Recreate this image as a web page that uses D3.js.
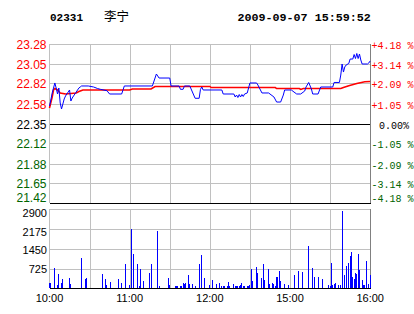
<!DOCTYPE html>
<html>
<head>
<meta charset="utf-8">
<script src="https://cdn.jsdelivr.net/npm/d3@7"></script>
<style>
body{margin:0;background:#fff;}
svg{display:block;}
</style>
</head>
<body>
<div id="chart"></div>
<script>
var stockCode = "02331", stockName = "李宁", stamp = "2009-09-07 15:59:52";
var prevClose = 22.35;
var priceTicks = [23.28, 23.05, 22.82, 22.58, 22.35, 22.12, 21.88, 21.65, 21.42];
var pctLabels = ["+4.18 %", "+3.14 %", "+2.09 %", "+1.05 %", "0.00%", "-1.05 %", "-2.09 %", "-3.14 %", "-4.18 %"];
var volTicks = [2900, 2175, 1450, 725];
var timeTicks = [0, 60, 120, 180, 240];
var timeLabels = ["10:00", "11:00", "12:00", "15:00", "16:00"];

// minute index since 10:00 (lunch break skipped) and last price
var priceMinutes = [0,1,2,3,4,5,6,7,8,9,10,11,12,13,14,15,16,17,18,19,20,21,22,23,24,29,33,36,38,43,45,54,55,56,77,80,81,82,90,91,97,98,100,101,105,109,112,113,114,115,129,130,138,139,140,141,142,143,144,145,146,148,150,155,156,159,164,168,170,173,175,176,181,183,185,188,191,192,194,196,197,201,203,212,213,217,218,219,220,221,222,224,225,227,228,229,230,231,232,233,234,238,239,240];
var priceValues = [22.555,22.625,22.707,22.765,22.824,22.765,22.695,22.765,22.590,22.520,22.578,22.637,22.672,22.695,22.718,22.742,22.613,22.648,22.672,22.695,22.718,22.742,22.765,22.777,22.789,22.789,22.777,22.759,22.750,22.734,22.695,22.695,22.742,22.789,22.789,22.929,22.906,22.882,22.882,22.789,22.789,22.750,22.750,22.789,22.789,22.645,22.645,22.750,22.777,22.742,22.742,22.695,22.695,22.660,22.683,22.654,22.689,22.660,22.689,22.666,22.695,22.707,22.824,22.824,22.800,22.707,22.707,22.660,22.601,22.601,22.683,22.742,22.742,22.718,22.695,22.695,22.730,22.777,22.830,22.754,22.695,22.695,22.777,22.777,22.830,22.830,22.917,23.046,22.952,23.011,23.034,23.052,23.104,23.104,23.157,23.110,23.169,23.110,23.163,23.093,23.046,23.046,23.058,23.081];

// average price line
var avgMinutes = [0,2,3,4,6,8,12,20,22,25,60,62,76,79,120,121,169,170,187,188,190,218,220,224,230,236,240];
var avgValues = [22.531,22.660,22.742,22.759,22.742,22.707,22.695,22.707,22.724,22.742,22.742,22.754,22.754,22.783,22.783,22.771,22.771,22.759,22.759,22.748,22.759,22.759,22.771,22.792,22.818,22.839,22.841];

// volume per minute
var volMinutes = [0,1,4,6,7,9,10,15,16,24,27,28,40,42,43,46,52,54,57,60,61,63,66,67,68,70,75,76,81,82,89,90,94,95,96,98,99,100,101,102,104,105,107,109,112,114,116,120,122,125,127,129,130,131,133,134,135,138,139,140,141,142,143,144,145,146,148,149,150,151,152,155,156,159,160,161,164,165,167,168,169,170,171,172,173,176,179,183,186,189,194,197,198,201,204,209,210,211,212,213,214,216,218,219,221,222,224,225,226,227,228,229,230,231,232,234,235,236,237,239,240];
var volValues = [183,183,745,121,525,195,341,378,158,1112,341,378,525,341,121,231,341,195,892,121,2176,1259,892,85,708,268,562,892,2102,85,378,121,85,85,85,85,85,195,158,195,488,158,158,85,892,1222,378,121,305,158,195,85,85,85,85,231,85,158,85,85,85,85,121,195,85,85,85,85,121,708,268,782,562,378,892,305,708,158,195,158,85,415,415,635,268,158,121,488,635,598,1552,745,415,415,341,121,85,929,121,158,195,121,121,2837,488,818,929,1185,1332,415,341,562,525,1259,672,305,121,121,1002,158,488];

var W = 414, H = 314;
var left = 49.5, right = 371;
var gridColor = "#c0c0c0", upColor = "#ff0000", downColor = "#006400";

var svg = d3.select("#chart").append("svg")
    .attr("width", W).attr("height", H)
    .style("font-family", "'Liberation Sans', Arial, sans-serif");

var x = d3.scaleLinear().domain([0, 241]).range([left, right + 0.5]);
var y = d3.scaleLinear().domain([21.42, 23.28]).range([203, 44]);
var yv = d3.scaleLinear().domain([0, 2900]).range([288.3, 209.3]);

// header
svg.append("text").attr("x", 50).attr("y", 20.5)
    .style("font-family", "'Liberation Mono', monospace").style("font-weight", "bold")
    .style("font-size", "11px").text(stockCode);
svg.append("text").attr("x", 104).attr("y", 20.5)
    .style("font-family", "'Noto Sans CJK SC', sans-serif")
    .style("font-size", "12.5px").text(stockName);
svg.append("text").attr("x", 237.5).attr("y", 20.5)
    .style("font-family", "'Liberation Mono', monospace").style("font-weight", "bold")
    .style("font-size", "11.7px").text(stamp);

var gridMinutes = d3.range(30, 240, 30);
var snap = function(v){ return Math.round(v) + 0.5; };

// price panel grid
var pg = svg.append("g").attr("shape-rendering", "crispEdges");
pg.selectAll("line.v").data(gridMinutes).enter().append("line")
    .attr("x1", function(d){ return snap(x(d)); }).attr("x2", function(d){ return snap(x(d)); })
    .attr("y1", 44).attr("y2", 203).attr("stroke", gridColor);
pg.selectAll("line.h").data(priceTicks).enter().append("line")
    .attr("x1", left).attr("x2", right)
    .attr("y1", function(d){ return snap(y(d)); }).attr("y2", function(d){ return snap(y(d)); })
    .attr("stroke", function(d, i){ return (d === prevClose || i === priceTicks.length - 1) ? "#000" : gridColor; });
pg.append("line").attr("x1", 49.5).attr("x2", 49.5).attr("y1", 44).attr("y2", 203).attr("stroke", gridColor);
pg.append("line").attr("x1", 370.5).attr("x2", 370.5).attr("y1", 44).attr("y2", 203).attr("stroke", "#808080");

// price axis labels (the lowest one sits just above the panel edge)
var tickColor = function(d){ return d > prevClose + 1e-9 ? upColor : (d < prevClose - 1e-9 ? downColor : "#000"); };
var labelY = function(d){ return Math.min(y(d) + 5, 202); };
svg.selectAll("text.pl").data(priceTicks).enter().append("text")
    .attr("x", 46.5).attr("y", labelY)
    .attr("text-anchor", "end").style("font-size", "12px")
    .attr("fill", tickColor).text(function(d){ return d.toFixed(2); });
svg.selectAll("text.pr").data(priceTicks).enter().append("text")
    .attr("x", function(d){ return d === prevClose ? 379 : 371.5; })
    .attr("y", labelY)
    .style("font-family", "'Liberation Mono', monospace").style("font-size", "10px")
    .attr("fill", tickColor).text(function(d, i){ return pctLabels[i]; });

// lines
var line = d3.line().x(function(d){ return x(d[0]); }).y(function(d){ return y(d[1]); });
svg.append("path").datum(d3.zip(avgMinutes, avgValues))
    .attr("d", line).attr("fill", "none").attr("stroke", upColor).attr("stroke-width", 1.6);
svg.append("path").datum(d3.zip(priceMinutes, priceValues))
    .attr("d", line).attr("fill", "none").attr("stroke", "#0000ff").attr("stroke-width", 1);

// volume panel
var vg = svg.append("g").attr("shape-rendering", "crispEdges");
vg.selectAll("line.v").data(gridMinutes).enter().append("line")
    .attr("x1", function(d){ return snap(x(d)); }).attr("x2", function(d){ return snap(x(d)); })
    .attr("y1", 209).attr("y2", 288).attr("stroke", gridColor);
vg.selectAll("line.h").data(volTicks).enter().append("line")
    .attr("x1", left).attr("x2", right)
    .attr("y1", function(d){ return snap(yv(d)); }).attr("y2", function(d){ return snap(yv(d)); })
    .attr("stroke", gridColor);
vg.append("line").attr("x1", 49.5).attr("x2", 49.5).attr("y1", 209).attr("y2", 288).attr("stroke", gridColor);
vg.append("line").attr("x1", 370.5).attr("x2", 370.5).attr("y1", 209).attr("y2", 288).attr("stroke", "#808080");

vg.selectAll("rect.bar").data(d3.zip(volMinutes, volValues)).enter().append("rect")
    .attr("x", function(d){ return Math.floor(x(d[0])); })
    .attr("width", 1)
    .attr("y", function(d){ return Math.round(yv(d[1])); })
    .attr("height", function(d){ return 288 - Math.round(yv(d[1])); })
    .attr("fill", "#0000ff");
vg.append("line").attr("x1", left).attr("x2", right).attr("y1", 288.5).attr("y2", 288.5).attr("stroke", "#000");

var volLabelY = d3.scaleLinear().domain([0, 2900]).range([292, 216.7]);
svg.selectAll("text.vl").data(volTicks).enter().append("text")
    .attr("x", 47).attr("y", function(d){ return volLabelY(d); })
    .attr("text-anchor", "end").style("font-size", "11px").attr("fill", "#000")
    .text(function(d){ return d; });

svg.selectAll("text.tl").data(timeTicks).enter().append("text")
    .attr("x", function(d){ return x(d); }).attr("y", 301.5)
    .attr("text-anchor", "middle").style("font-size", "11px").attr("fill", "#000")
    .text(function(d, i){ return timeLabels[i]; });
</script>
</body>
</html>
